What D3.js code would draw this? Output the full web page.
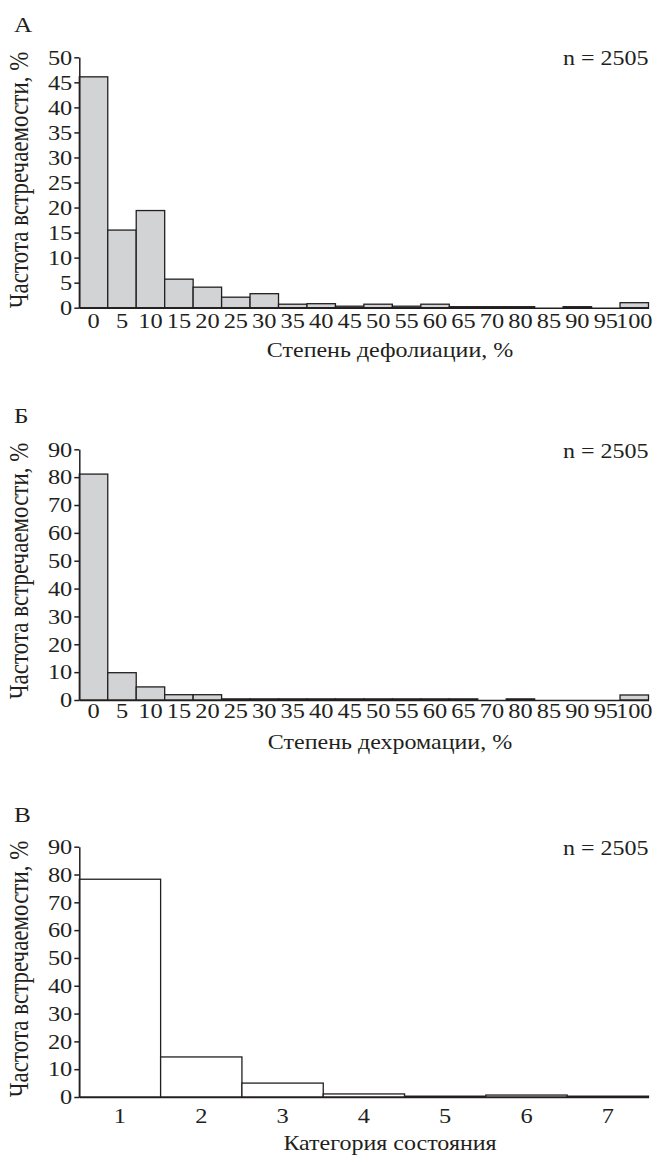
<!DOCTYPE html>
<html>
<head>
<meta charset="utf-8">
<script src="https://cdn.jsdelivr.net/npm/d3@7"></script>
<style>
  body { margin: 0; background: #fff; }
</style>
</head>
<body>
<div id="chart"></div>
<script>
// bins of the first two histograms (75 is absent in the source)
var percentBins = ["0", "5", "10", "15", "20", "25", "30", "35", "40", "45", "50",
                   "55", "60", "65", "70", "80", "85", "90", "95", "100"];
// А: defoliation, % of trees
var defoliation = [46.1, 15.5, 19.4, 5.7, 4.1, 2.1, 2.8, 0.7, 0.8, 0.3, 0.7,
                   0.3, 0.7, 0.2, 0.2, 0.2, 0, 0.2, 0, 1.0];
// Б: dechromation, % of trees
var dechromation = [81.1, 9.8, 4.7, 1.9, 1.9, 0.4, 0.4, 0.4, 0.4, 0.4, 0.4,
                    0.4, 0.4, 0.4, 0, 0.4, 0, 0, 0, 1.8];
// В: condition category
var categories = ["1", "2", "3", "4", "5", "6", "7"];
var categoryShare = [78.3, 14.4, 5.0, 1.1, 0.3, 0.7, 0.3];

var ticksA = [0, 5, 10, 15, 20, 25, 30, 35, 40, 45, 50];
var ticksB = [0, 10, 20, 30, 40, 50, 60, 70, 80, 90];
var ticksC = [0, 10, 20, 30, 40, 50, 60, 70, 80, 90];

var ink = "#231f20";
var serif = "'Liberation Serif', 'Times New Roman', Times, serif";
var width = 658, height = 1155;
var left = 79.3, right = 648.5;
// the printed figure is a bit wider than tall, so text is stretched sideways
var stretch = 1.2;

var svg = d3.select("#chart")
  .append("svg")
    .attr("width", width)
    .attr("height", height)
    .style("font-family", serif);

var panels = [
  { letter: "А", bins: percentBins, values: defoliation, ticks: ticksA, max: 50,
    bottom: 307.7, top: 57.3, fill: "#d2d3d5", title: "Степень дефолиации, %",
    letterY: 32, nY: 65, labelGap: 20, titleY: 357, yTitleMid: 180 },
  { letter: "Б", bins: percentBins, values: dechromation, ticks: ticksB, max: 90,
    bottom: 700, top: 449.3, fill: "#d2d3d5", title: "Степень дехромации, %",
    letterY: 423, nY: 458, labelGap: 18, titleY: 749, yTitleMid: 571 },
  { letter: "В", bins: categories, values: categoryShare, ticks: ticksC, max: 90,
    bottom: 1097, top: 846.7, fill: "#ffffff", title: "Категория состояния",
    letterY: 822, nY: 855, labelGap: 26, titleY: 1150, yTitleMid: 969 }
];

function styleText(sel, size) {
  sel.attr("font-family", serif)
    .style("font-family", serif)
    .style("font-size", size + "px")
    .attr("fill", ink);
}

// text placed at (x, y) and widened by `stretch`
function label(g, x, y, size, anchor, str) {
  return g.append("text")
    .attr("transform", "translate(" + x + "," + y + ") scale(" + stretch + ",1)")
    .attr("text-anchor", anchor)
    .call(styleText, size)
    .text(str);
}

panels.forEach(function(p) {
  var g = svg.append("g");

  var x = d3.scaleBand()
    .domain(p.bins)
    .range([left, right])
    .padding(0);

  var y = d3.scaleLinear()
    .domain([0, p.max])
    .range([p.bottom, p.top]);

  // bars
  g.selectAll("rect")
    .data(p.values)
    .enter()
    .append("rect")
      .attr("x", function(d, i) { return x(p.bins[i]); })
      .attr("y", function(d) { return y(d); })
      .attr("width", x.bandwidth())
      .attr("height", function(d) { return y(0) - y(d); })
      .attr("fill", p.fill)
      .attr("stroke", ink)
      .attr("stroke-width", 1.3);

  // y axis
  var yAxis = g.append("g")
    .attr("transform", "translate(" + left + ",0)")
    .call(d3.axisLeft(y).tickValues(p.ticks).tickSize(5).tickSizeOuter(0).tickPadding(2));
  yAxis.attr("font-family", serif);
  yAxis.selectAll("path, line").attr("stroke", ink).attr("stroke-width", 1.5);
  yAxis.selectAll("text").call(styleText, 20)
    .attr("x", -7 / 1.22)
    .attr("transform", "scale(1.22,1)")
    .attr("dy", "0.34em");

  // x axis
  var xAxis = g.append("g")
    .attr("transform", "translate(0," + p.bottom + ")")
    .call(d3.axisBottom(x).tickSize(0).tickSizeOuter(0).tickPadding(p.labelGap - 14));
  xAxis.attr("font-family", serif);
  xAxis.select(".domain").attr("stroke", ink).attr("stroke-width", 1.5);
  xAxis.selectAll("text").call(styleText, 20)
    .attr("transform", "scale(1.22,1)")
    .attr("dy", "0.71em");

  // panel letter, sample size, axis titles
  label(g, 14, p.letterY, 21, "start", p.letter);
  label(g, right, p.nY, 20, "end", "n = 2505");
  label(g, 390, p.titleY, 20, "middle", p.title);

  g.append("text")
    .attr("transform", "translate(28," + p.yTitleMid + ") scale(" + stretch + ",1) rotate(-90)")
    .attr("text-anchor", "middle")
    .call(styleText, 23)
    .text("Частота встречаемости, %");
});
</script>
</body>
</html>
